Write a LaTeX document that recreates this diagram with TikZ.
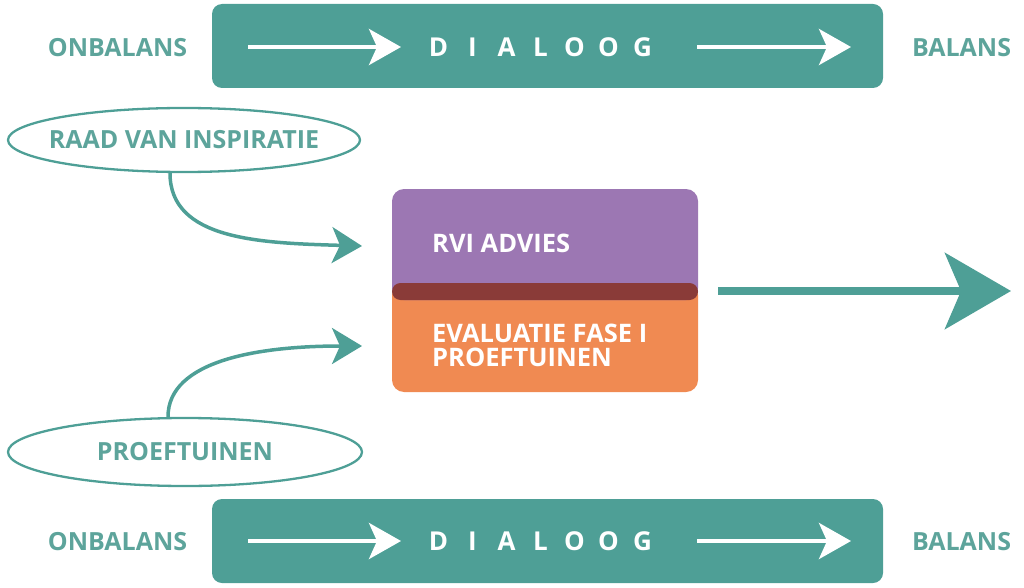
\documentclass[tikz,border=0pt]{standalone}
\usepackage{fontspec}
\setmainfont{Open Sans}
\usetikzlibrary{arrows.meta,shapes.geometric}
\definecolor{tealc}{HTML}{4E9F96}
\definecolor{tealt}{HTML}{5DA49B}
\definecolor{purp}{HTML}{9C77B3}
\definecolor{orng}{HTML}{F08A52}
\definecolor{darkr}{HTML}{8A3B38}
\tikzset{
  band/.style={fill=tealc, rounded corners=10pt},
  sidelabel/.style={text=tealt, font=\fontsize{25}{28}\selectfont\bfseries, inner sep=0pt},
  dlglabel/.style={text=white, font=\fontsize{26}{28}\selectfont\bfseries, inner sep=0pt},
  whitearrow/.style={draw=white, line width=4pt, -{Stealth[length=32pt, width=36pt, inset=8pt]}},
  ell/.style={ellipse, draw=tealc, line width=2.3pt, inner xsep=-20pt, inner ysep=-8pt, text=tealt, font=\fontsize{25}{28}\selectfont\bfseries},
  curvearrow/.style={draw=tealc, line width=3.5pt, -{Stealth[length=30pt, width=36pt, inset=8pt]}},
  boxtext/.style={text=white, anchor=west, inner sep=0pt, align=left, font=\fontsize{25.5}{24}\selectfont\bfseries},
}
\begin{document}
\begin{tikzpicture}[x=1pt, y=-1pt]
\useasboundingbox (0,0) rectangle (1024,588);
% top band
\fill[band] (212,4) rectangle (883,88);
\node[sidelabel] (onb1) at (117.5,48) {ONBALANS};
\node[sidelabel] (bal1) at (961.5,48) {BALANS};
\node[dlglabel] (dlg1) at (540.5,47) {\makebox[34pt]{D}\makebox[34pt]{I}\makebox[34pt]{A}\makebox[34pt]{L}\makebox[34pt]{O}\makebox[34pt]{O}\makebox[34pt]{G}};
\coordinate (a1s) at (248,47); \coordinate (a1e) at (401,47);
\coordinate (a2s) at (697,47); \coordinate (a2e) at (851,47);
\draw[whitearrow] (a1s) -- (a1e);
\draw[whitearrow] (a2s) -- (a2e);
% bottom band
\fill[band] (212,499) rectangle (883,583);
\node[sidelabel] (onb2) at (117.5,542) {ONBALANS};
\node[sidelabel] (bal2) at (961.5,542) {BALANS};
\node[dlglabel] (dlg2) at (540.5,541) {\makebox[34pt]{D}\makebox[34pt]{I}\makebox[34pt]{A}\makebox[34pt]{L}\makebox[34pt]{O}\makebox[34pt]{O}\makebox[34pt]{G}};
\coordinate (b1s) at (248,541); \coordinate (b1e) at (401,541);
\coordinate (b2s) at (697,541); \coordinate (b2e) at (851,541);
\draw[whitearrow] (b1s) -- (b1e);
\draw[whitearrow] (b2s) -- (b2e);
% center boxes
\fill[orng, rounded corners=12pt] (392,283) rectangle (698,392);
\fill[purp, rounded corners=12pt] (392,189) rectangle (698,300);
\fill[darkr, rounded corners=8.5pt] (392,283) rectangle (698,300);
\node[boxtext] (rvi) at (432,243) {RVI ADVIES};
\node[boxtext] (eval) at (432,345) {EVALUATIE FASE I\\PROEFTUINEN};
% ellipses
\node[ell, minimum width=352pt, minimum height=64pt] (rvin) at (184,140) {RAAD VAN INSPIRATIE};
\node[ell, minimum width=354pt, minimum height=68pt] (proef) at (185,452) {PROEFTUINEN};
% curved arrows
\coordinate (t1) at (362,246);
\coordinate (t2) at (362,346);
\draw[curvearrow] (rvin.south -| 170,0) .. controls (170,240) and (260,243) .. (t1);
\draw[curvearrow] (proef.north -| 168,0) .. controls (168,360) and (260,346) .. (t2);
% big arrow
\coordinate (bs) at (718,291);
\coordinate (be) at (1011,291);
\draw[draw=tealc, line width=8pt, -{Stealth[length=66pt, width=76pt, inset=16pt]}] (bs) -- (be);
\end{tikzpicture}
\end{document}
